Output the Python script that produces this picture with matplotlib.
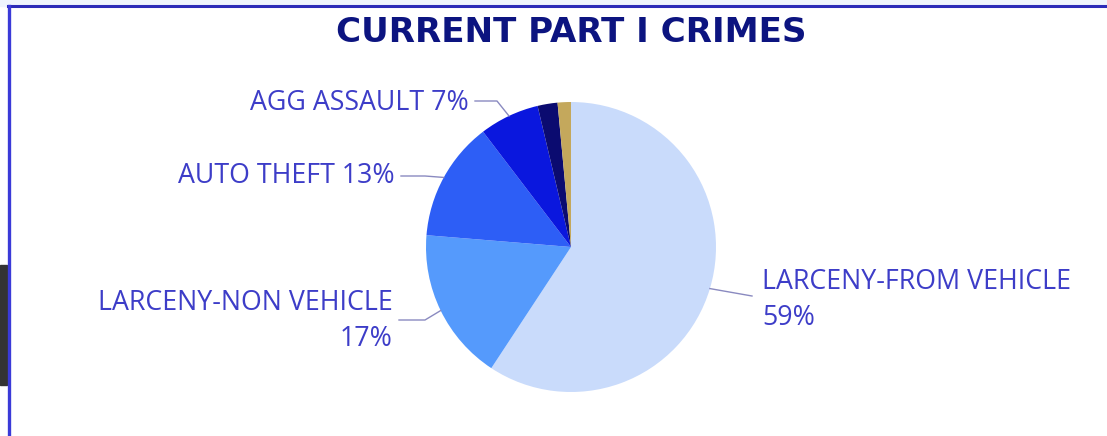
import numpy as np
import matplotlib.pyplot as plt
from matplotlib.patches import Rectangle

# Part I crime counts, clockwise from 12 o'clock
categories = ["LARCENY-FROM VEHICLE", "LARCENY-NON VEHICLE", "AUTO THEFT",
              "AGG ASSAULT", "ROBBERY", "BURGLARY"]
counts = [80, 23, 18, 9, 3, 2]
colors = ["#c9dbfb", "#559afc", "#2d5ef6", "#0a17de", "#0b0b70", "#c4a85c"]

# label text, anchor side and where the label sits (pixels, top-left origin)
label_text = {
    0: "LARCENY-FROM VEHICLE\n{p}%",
    1: "LARCENY-NON VEHICLE\n{p}%",
    2: "AUTO THEFT {p}%",
    3: "AGG ASSAULT {p}%",
}
label_pos = {0: (762, 300), 1: (393, 321), 2: (395, 176), 3: (469, 103)}
elbow = {0: (752, 296), 1: (425, 320), 2: (425, 176), 3: (497, 101)}

W, H = 1107, 436
fig = plt.figure(figsize=(W / 100, H / 100), dpi=100)
ax = fig.add_axes([0, 0, 1, 1])
ax.set_xlim(0, W)
ax.set_ylim(0, H)
ax.axis("off")

def py(y):
    return H - y

# frame bits: pale strip above the top rule, blue rules, dark block on left
ax.add_patch(Rectangle((0, py(6)), W, 6, color="#eef4fd", zorder=0))
ax.plot([8, W], [py(6), py(6)], color="#2b2bb8", lw=2.2, zorder=5)
ax.plot([9, 9], [0, py(6)], color="#3a3ad8", lw=2.4, zorder=5)
ax.add_patch(Rectangle((0, py(385)), 6.5, 120, color="#333333", zorder=4))

cx, cy, r = 571, 247, 145
wedges, _ = ax.pie(counts, colors=colors, startangle=90, counterclock=False,
                   center=(cx, py(cy)), radius=r, frame=True,
                   wedgeprops=dict(linewidth=0))
ax.set_xlim(0, W)
ax.set_ylim(0, H)
ax.set_aspect("equal")
ax.axis("off")

total = sum(counts)
txt_color = "#3d3dc8"
for i, lab in label_text.items():
    w = wedges[i]
    mid = np.deg2rad((w.theta1 + w.theta2) / 2)
    ex, ey = cx + r * np.cos(mid), py(cy) + r * np.sin(mid)
    bx, by = elbow[i]
    tx, ty = label_pos[i]
    if i == 0:
        sx = tx - 10
    else:
        sx = tx + 6
    ax.plot([ex, bx, sx], [ey, py(by), py(by)], color="#8a8ac0", lw=1)
    pct = round(100 * counts[i] / total)
    ha = "left" if i == 0 else "right"
    ax.text(tx, py(ty), lab.format(p=pct), ha=ha, va="center",
            color=txt_color, fontsize=19.3, family="Open Sans",
            linespacing=1.42, multialignment=ha)

ax.text(571, py(33), "CURRENT PART I CRIMES", ha="center", va="center",
        color="#0c1480", fontsize=24.6, fontweight="bold",
        family="DejaVu Sans")

fig.savefig("out.png", dpi=100)
